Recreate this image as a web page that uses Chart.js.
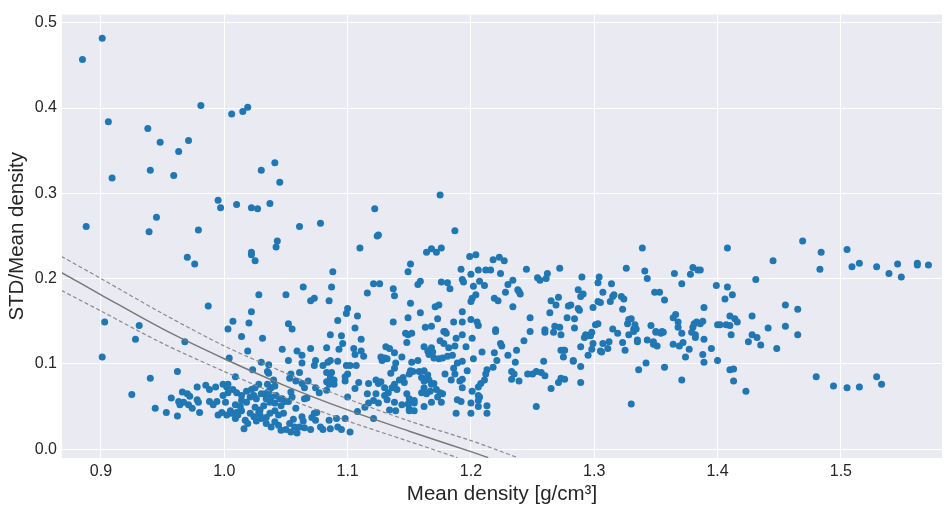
<!DOCTYPE html>
<html lang="en">
<head>
  <meta charset="UTF-8">
  <title>STD/Mean density vs mean density</title>
  <script src="https://cdn.jsdelivr.net/npm/chart.js"></script>
  <style>
    body { margin: 0; background: #fff; }
    canvas { display: block; }
  </style>
</head>
<body>
  <canvas id="densityChart" width="946" height="510"></canvas>

  <script>
    // axis ticks
    const xTicks = [0.9, 1.0, 1.1, 1.2, 1.3, 1.4, 1.5];
    const yTicks = [0.0, 0.1, 0.2, 0.3, 0.4, 0.5];

    // fitted curve and its band (mean density, STD/mean)
    const fitX   = [0.868, 0.9, 0.95, 1.0, 1.05, 1.1, 1.15, 1.2, 1.214];
    const fitY   = [0.207, 0.181, 0.141, 0.106, 0.074, 0.046, 0.021, -0.003, -0.010];
    const upperX = [0.868, 0.9, 0.95, 1.0, 1.05, 1.1, 1.15, 1.2, 1.238];
    const upperY = [0.226, 0.200, 0.159, 0.121, 0.089, 0.059, 0.033, 0.010, -0.010];
    const lowerX = [0.868, 0.9, 0.95, 1.0, 1.05, 1.1, 1.15, 1.189];
    const lowerY = [0.186, 0.162, 0.124, 0.091, 0.060, 0.033, 0.009, -0.010];

    // measured samples: [mean density, STD/mean density]
    const samples = [
      [0.885,0.457],[0.901,0.482],[0.981,0.403],[1.006,0.393],[1.015,0.396],[1.019,0.401],[0.906,0.384],[0.938,0.376],
      [0.948,0.360],[0.971,0.362],[0.963,0.349],[0.940,0.327],[0.959,0.321],[0.909,0.318],[1.030,0.327],[1.041,0.336],
      [1.045,0.313],[0.995,0.292],[1.010,0.287],[1.037,0.288],[1.175,0.298],
      [0.888,0.261],[0.939,0.255],[0.945,0.272],[0.979,0.257],[0.997,0.283],[1.022,0.283],[1.027,0.282],[0.970,0.225],
      [0.976,0.217],[1.043,0.244],[1.042,0.237],[1.022,0.231],[1.022,0.228],[1.025,0.221],[1.028,0.181],[0.987,0.168],
      [1.022,0.161],[1.007,0.150],[1.020,0.148],[0.903,0.149],[0.931,0.145],[1.003,0.141],
      [1.061,0.261],[1.078,0.265],[1.122,0.282],[1.124,0.250],[1.125,0.251],[1.110,0.236],[1.187,0.256],[1.164,0.231],
      [1.168,0.235],[1.172,0.231],[1.176,0.236],[1.199,0.226],[1.204,0.228],[1.218,0.222],[1.223,0.225],[1.151,0.217],
      [1.149,0.208],[1.088,0.208],[1.192,0.211],[1.200,0.205],[1.206,0.210],[1.212,0.210],[1.216,0.210],[1.224,0.206],
      [1.193,0.199],[1.194,0.196],[1.207,0.197],[1.202,0.191],[1.211,0.192],[1.159,0.197],[1.157,0.193],[1.176,0.196],
      [1.181,0.195],[1.183,0.188],[1.121,0.194],[1.126,0.194],[1.116,0.183],[1.137,0.188],[1.138,0.180],[1.050,0.181],
      [1.064,0.190],[1.087,0.190],[1.070,0.174],[1.073,0.177],[1.085,0.174],[1.151,0.171],[1.204,0.181],[1.201,0.177],
      [1.200,0.173],[1.219,0.177],[1.222,0.174],[1.171,0.167],[1.174,0.169],[1.100,0.165],[1.099,0.159],[1.159,0.160],
      [1.193,0.161],[1.108,0.156],[1.092,0.151],[1.137,0.149],[1.149,0.154],[1.173,0.153],[1.186,0.149],[1.193,0.149],
      [1.200,0.152],[1.205,0.149],[1.206,0.145],[1.052,0.147],[1.055,0.141],[1.106,0.142],[1.163,0.143],[1.168,0.144],
      [1.178,0.138],[1.220,0.140],
      [1.339,0.236],[1.227,0.221],[1.245,0.211],[1.254,0.201],[1.256,0.198],[1.261,0.200],[1.262,0.206],[1.272,0.212],
      [1.230,0.193],[1.234,0.198],[1.228,0.184],[1.238,0.187],[1.239,0.185],[1.240,0.182],[1.234,0.167],[1.290,0.202],
      [1.304,0.202],[1.303,0.195],[1.307,0.184],[1.287,0.187],[1.289,0.179],[1.291,0.182],[1.265,0.174],[1.269,0.169],
      [1.271,0.178],[1.264,0.160],[1.248,0.154],[1.279,0.168],[1.281,0.169],[1.287,0.165],[1.288,0.163],[1.278,0.154],
      [1.284,0.153],[1.299,0.166],[1.303,0.173],[1.305,0.172],[1.314,0.194],[1.313,0.173],[1.315,0.179],[1.316,0.181],
      [1.322,0.179],[1.324,0.176],[1.323,0.164],[1.326,0.212],[1.341,0.209],[1.343,0.200],[1.349,0.184],[1.353,0.184],
      [1.357,0.175],[1.365,0.206],[1.371,0.194],[1.378,0.205],[1.380,0.213],[1.384,0.210],[1.386,0.210],[1.399,0.192],
      [1.389,0.166],[1.301,0.146],[1.303,0.147],[1.315,0.141],[1.284,0.142],[1.268,0.144],[1.272,0.143],[1.260,0.140],
      [1.248,0.138],[1.327,0.147],[1.328,0.152],[1.330,0.153],[1.332,0.141],[1.333,0.146],[1.334,0.141],[1.346,0.145],
      [1.364,0.154],[1.366,0.158],[1.368,0.149],[1.368,0.143],[1.380,0.143],[1.381,0.147],[1.383,0.149],[1.386,0.147],
      [1.388,0.150],[1.400,0.146],[1.350,0.138],[1.355,0.138],
      [1.408,0.236],[1.469,0.244],[1.445,0.221],[1.484,0.231],[1.483,0.211],[1.505,0.234],[1.509,0.214],[1.515,0.218],
      [1.529,0.214],[1.539,0.206],[1.546,0.217],[1.549,0.202],[1.562,0.218],[1.562,0.216],[1.571,0.216],[1.431,0.199],
      [1.408,0.190],[1.406,0.176],[1.412,0.181],[1.455,0.169],[1.465,0.164],[1.410,0.156],[1.414,0.153],[1.416,0.149],
      [1.428,0.156],[1.402,0.146],[1.407,0.146],[1.410,0.145],[1.441,0.142],[1.455,0.144],
      [1.428,0.134],[1.432,0.131],[1.425,0.126],[1.435,0.122],[1.448,0.118],[1.465,0.134],[1.480,0.085],[1.494,0.074],
      [1.505,0.072],[1.515,0.073],[1.529,0.085],[1.533,0.076],[1.423,0.068],
      [1.411,0.134],[1.400,0.104],[1.410,0.093],[1.413,0.094],[1.413,0.080],[1.389,0.129],[1.388,0.111],[1.389,0.102],
      [1.395,0.118],[1.371,0.081],[1.374,0.108],[1.377,0.117],[1.369,0.121],[1.372,0.125],[1.364,0.123],[1.357,0.096],
      [1.351,0.121],[1.348,0.123],[1.348,0.126],[1.343,0.128],[1.350,0.137],[1.354,0.136],[1.356,0.137],[1.371,0.136],
      [1.379,0.137],[1.382,0.134],[1.382,0.131],[1.342,0.101],[1.336,0.093],[1.330,0.053],[1.335,0.126],[1.335,0.128],
      [1.328,0.134],[1.332,0.138],[1.323,0.125],[1.325,0.116],[1.319,0.136],[1.312,0.126],[1.311,0.118],[1.307,0.124],
      [1.305,0.115],[1.306,0.114],[1.299,0.124],[1.298,0.117],[1.295,0.110],[1.292,0.131],[1.293,0.134],[1.295,0.133],
      [1.297,0.133],[1.298,0.137],[1.289,0.120],[1.289,0.097],[1.289,0.078],[1.283,0.104],[1.283,0.103],[1.273,0.116],
      [1.275,0.116],[1.276,0.116],[1.275,0.108],[1.273,0.083],[1.276,0.082],[1.271,0.078],[1.265,0.071],[1.259,0.103],
      [1.257,0.090],[1.260,0.086],[1.273,0.134],[1.267,0.137],[1.260,0.137],
      [1.147,0.136],[1.149,0.134],[1.152,0.136],[1.148,0.125],[1.131,0.120],[1.134,0.118],[1.138,0.113],[1.127,0.108],
      [1.130,0.107],[1.132,0.106],[1.128,0.104],[1.144,0.108],[1.139,0.101],[1.138,0.095],[1.135,0.089],[1.152,0.102],
      [1.157,0.104],[1.151,0.092],[1.150,0.088],[1.153,0.091],[1.145,0.084],[1.142,0.081],[1.146,0.078],[1.138,0.076],
      [1.136,0.072],[1.140,0.070],[1.127,0.079],[1.130,0.072],[1.133,0.066],[1.130,0.063],[1.132,0.058],[1.138,0.055],
      [1.144,0.052],[1.134,0.046],[1.139,0.045],[1.148,0.065],[1.150,0.059],[1.149,0.053],[1.150,0.047],[1.154,0.054],
      [1.162,0.120],[1.165,0.115],[1.166,0.111],[1.168,0.119],[1.169,0.114],[1.175,0.127],[1.178,0.124],[1.182,0.119],
      [1.187,0.121],[1.188,0.130],[1.179,0.138],[1.180,0.136],[1.193,0.134],[1.201,0.130],[1.170,0.107],[1.174,0.106],
      [1.177,0.107],[1.181,0.109],[1.185,0.110],[1.189,0.101],[1.193,0.103],[1.186,0.095],[1.196,0.120],[1.202,0.106],
      [1.209,0.114],[1.220,0.138],[1.224,0.124],[1.225,0.121],[1.219,0.113],[1.221,0.104],[1.230,0.110],[1.237,0.116],
      [1.243,0.127],[1.236,0.102],[1.218,0.096],[1.213,0.093],[1.212,0.088],[1.233,0.091],[1.235,0.088],[1.233,0.082],
      [1.239,0.080],[1.246,0.088],[1.250,0.088],[1.253,0.091],[1.253,0.050],
      [1.158,0.091],[1.160,0.084],[1.162,0.092],[1.162,0.080],[1.165,0.087],[1.166,0.081],[1.168,0.076],[1.162,0.072],
      [1.160,0.066],[1.164,0.065],[1.167,0.068],[1.170,0.077],[1.172,0.070],[1.175,0.066],[1.177,0.065],[1.168,0.055],
      [1.173,0.061],[1.176,0.055],[1.162,0.050],[1.154,0.057],[1.179,0.088],[1.184,0.081],[1.187,0.088],[1.191,0.080],
      [1.193,0.082],[1.193,0.072],[1.192,0.056],[1.189,0.058],[1.188,0.042],[1.197,0.092],[1.201,0.068],[1.200,0.054],
      [1.200,0.042],[1.206,0.063],[1.207,0.061],[1.206,0.057],[1.206,0.073],[1.208,0.077],[1.211,0.081],[1.206,0.050],
      [1.213,0.051],[1.213,0.042],[1.150,0.045],[1.154,0.045],
      [0.928,0.129],[0.968,0.126],[0.901,0.108],[0.962,0.091],[0.940,0.083],[0.925,0.064],[0.978,0.073],[0.985,0.075],
      [0.988,0.070],[0.993,0.073],[0.966,0.067],[0.970,0.065],[0.972,0.062],[0.957,0.060],[0.963,0.056],[0.967,0.055],
      [0.971,0.052],[0.974,0.048],[0.978,0.058],[0.979,0.055],[0.964,0.052],[0.944,0.048],[0.953,0.043],[0.962,0.039],
      [0.980,0.043],[0.988,0.056],[0.991,0.052],[0.994,0.056],[0.995,0.040],[0.998,0.043],
      [1.014,0.132],[1.031,0.130],[1.086,0.134],[1.095,0.133],[1.096,0.124],[1.111,0.129],[1.105,0.118],[1.111,0.115],
      [1.106,0.111],[1.113,0.109],[1.004,0.107],[1.019,0.115],[1.047,0.117],[1.059,0.115],[1.063,0.110],[1.070,0.118],
      [1.052,0.104],[1.030,0.102],[1.083,0.119],[1.093,0.117],[1.086,0.104],[1.092,0.103],[1.074,0.104],[1.073,0.098],
      [1.080,0.098],[1.084,0.102],[1.099,0.098],[1.102,0.098],[1.107,0.098],[1.023,0.093],[1.035,0.091],[1.036,0.089],
      [1.054,0.088],[1.061,0.090],[1.009,0.085],[1.040,0.081],[1.083,0.090],[1.087,0.090],[1.086,0.084],[1.089,0.081],
      [1.083,0.079],[1.085,0.076],[1.089,0.076],[1.098,0.085],[1.100,0.088],[1.098,0.080],[1.053,0.083],[1.058,0.080],
      [1.063,0.077],[1.068,0.080],[1.065,0.072],[1.074,0.072],[1.077,0.066],[1.083,0.069],[1.109,0.078],[1.117,0.077],
      [1.123,0.081],[1.125,0.077],[1.106,0.071],[1.116,0.065],[1.123,0.065],[1.100,0.061],[1.114,0.049],[1.117,0.054],
      [1.121,0.057],[1.125,0.054],[1.121,0.036],[1.108,0.044],[1.098,0.036],[1.091,0.036],[1.102,0.020],[1.085,0.034],
      [1.086,0.024],[1.092,0.026],[1.095,0.023],[1.074,0.034],[1.073,0.042],[1.075,0.043],[1.078,0.026],[1.080,0.023],
      [1.070,0.023],[1.065,0.059],[1.067,0.060],[1.054,0.067],[1.055,0.061],[1.047,0.059],[1.052,0.056],[1.046,0.051],
      [1.058,0.048],[1.063,0.038],[1.071,0.037],[1.064,0.033],[1.056,0.035],[1.053,0.030],[1.057,0.026],[1.061,0.026],
      [1.065,0.025],[1.050,0.023],[1.059,0.019],[1.054,0.020],[1.046,0.022],[1.044,0.028],[1.041,0.032],[1.038,0.026],
      [1.034,0.030],[1.030,0.036],[1.026,0.033],[1.029,0.040],[1.017,0.034],[1.019,0.030],[1.016,0.024],[1.048,0.042],
      [1.044,0.040],[1.041,0.045],[1.037,0.042],[1.034,0.037],[1.029,0.046],[1.025,0.049],[1.032,0.051],[1.037,0.055],
      [1.041,0.054],[1.045,0.059],[1.049,0.056],[1.042,0.063],[1.038,0.061],[1.034,0.059],[1.033,0.065],[1.036,0.068],
      [1.038,0.072],[1.035,0.076],[1.041,0.074],[1.025,0.072],[1.028,0.076],[1.030,0.065],[1.024,0.063],[1.026,0.059],
      [1.021,0.061],[1.018,0.055],[1.014,0.057],[1.013,0.050],[1.009,0.052],[1.005,0.045],[1.002,0.040],[1.006,0.042],
      [1.001,0.055],[0.999,0.063],[1.003,0.066],[1.007,0.070],[1.002,0.073],[0.999,0.076],[1.003,0.076],[1.010,0.066],
      [1.014,0.063],[1.018,0.068],[1.022,0.070],[1.028,0.043],[1.024,0.038],[1.021,0.042],[1.014,0.045],[1.010,0.043],
      [1.009,0.036],[1.011,0.040],[1.036,0.099],[1.063,0.101]
    ];

    const toXY = (xs, ys) => xs.map((x, i) => ({ x: x, y: ys[i] }));

    // grey plotting area behind the grid
    const plotBackground = {
      id: 'plotBackground',
      beforeDraw(chart) {
        const { ctx, chartArea: a } = chart;
        ctx.save();
        ctx.fillStyle = '#eaeaf2';
        ctx.fillRect(a.left, a.top, a.right - a.left, a.bottom - a.top);
        ctx.restore();
      }
    };

    const tickFont = { family: "'Liberation Sans', Arial, sans-serif", size: 16 };
    const titleFont = { family: "'Liberation Sans', Arial, sans-serif", size: 20.5 };
    const textColor = '#262626';

    new Chart(document.getElementById('densityChart'), {
      type: 'scatter',
      data: {
        datasets: [
          { type: 'line', data: toXY(fitX, fitY), borderColor: '#777777', borderWidth: 1.4,
            pointRadius: 0, fill: false, tension: 0.3 },
          { type: 'line', data: toXY(upperX, upperY), borderColor: '#8a8a8a', borderWidth: 1.2,
            borderDash: [4, 2.5], pointRadius: 0, fill: false, tension: 0.3 },
          { type: 'line', data: toXY(lowerX, lowerY), borderColor: '#8a8a8a', borderWidth: 1.2,
            borderDash: [4, 2.5], pointRadius: 0, fill: false, tension: 0.3 },
          { data: samples.map(p => ({ x: p[0], y: p[1] })), backgroundColor: '#1f77b4',
            borderWidth: 0, pointRadius: 3.5 }
        ]
      },
      options: {
        responsive: false,
        animation: false,
        devicePixelRatio: 1,
        layout: { padding: { top: 7, right: 2, left: 0, bottom: 0 } },
        plugins: { legend: { display: false }, tooltip: { enabled: false } },
        scales: {
          x: {
            type: 'linear', min: 0.8684, max: 1.582,
            afterBuildTicks: s => { s.ticks = xTicks.map(v => ({ value: v })); },
            afterFit: s => { s.height = 52; },
            grid: { color: '#ffffff', lineWidth: 1, drawTicks: false },
            border: { display: false },
            ticks: { padding: 4, color: textColor, font: tickFont, callback: v => v.toFixed(1) },
            title: { display: true, text: 'Mean density [g/cm³]', color: textColor, font: titleFont,
              padding: { top: 0, bottom: 3 } }
          },
          y: {
            type: 'linear', min: -0.0104, max: 0.5096,
            afterBuildTicks: s => { s.ticks = yTicks.map(v => ({ value: v })); },
            afterFit: s => { s.width = 62; },
            grid: { color: '#ffffff', lineWidth: 1, drawTicks: false },
            border: { display: false },
            ticks: { padding: 5, color: textColor, font: tickFont, callback: v => v.toFixed(1) },
            title: { display: true, text: 'STD/Mean density', color: textColor, font: titleFont,
              padding: { top: 5, bottom: 0 } }
          }
        }
      },
      plugins: [plotBackground]
    });
  </script>
</body>
</html>
